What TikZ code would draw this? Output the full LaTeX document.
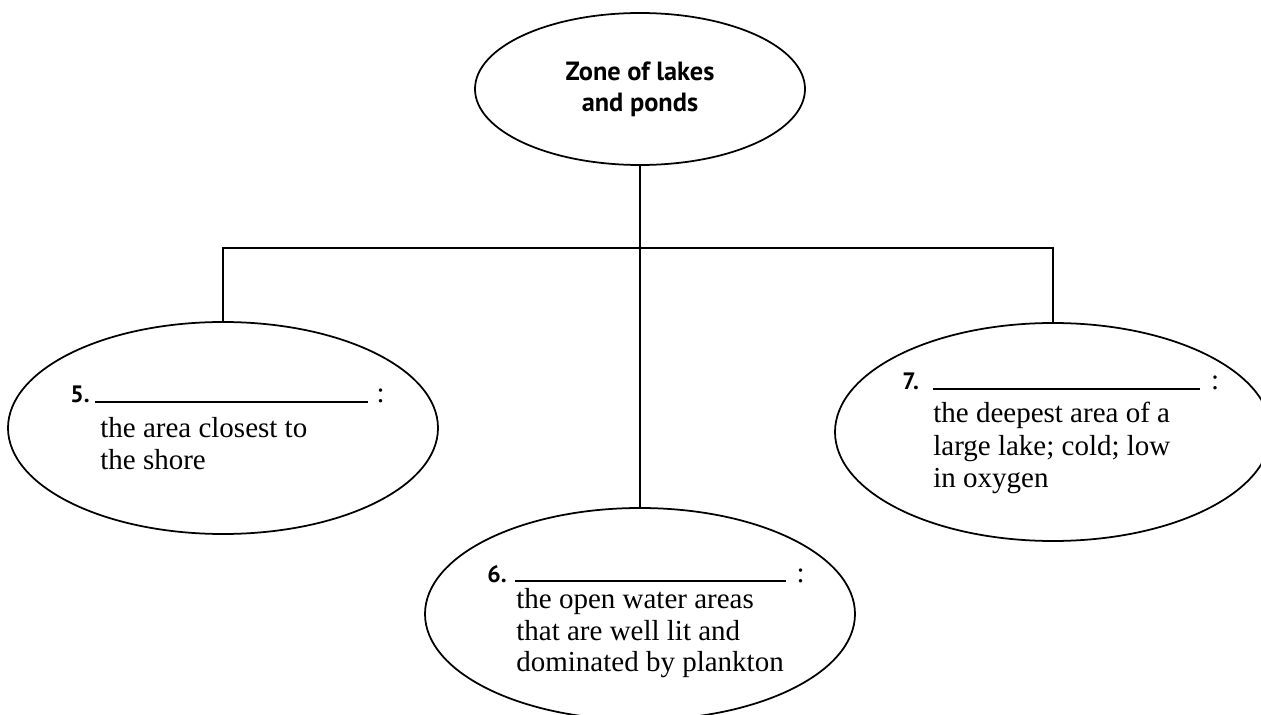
\documentclass[tikz,border=0pt]{standalone}
\usepackage{fontspec}
\setmainfont{Liberation Serif}
\newfontfamily\labelsans{PT Sans}
\usetikzlibrary{shapes.geometric}

\tikzset{
  zone/.style={ellipse,draw=black,line width=1pt,inner sep=0pt},
  link/.style={draw=black,line width=0.8pt},
  num/.style={font=\labelsans\bfseries\fontsize{13.5}{15}\selectfont,text=black,anchor=base west,inner sep=0pt},
  desc/.style={font=\fontsize{16.5}{18}\selectfont,text=black,anchor=base west,inner sep=0pt},
}

\begin{document}
\begin{tikzpicture}
\useasboundingbox (0,0) rectangle (25.22,14.28);

\node[zone,minimum width=6.6cm,minimum height=3.04cm,align=center,font=\labelsans\bfseries\fontsize{15}{17.6}\selectfont] (lakes) at (12.8,12.5) {Zone of lakes\\and ponds};
\node[zone,minimum width=8.6cm,minimum height=4.24cm] (zone5) at (4.46,5.72) {};
\node[zone,minimum width=8.6cm,minimum height=4.24cm] (zone6) at (12.8,2.0) {};
\node[zone,minimum width=8.72cm,minimum height=4.36cm] (zone7) at (21.06,5.64) {};

\coordinate (fork) at (12.8,9.32);
\draw[link] (lakes.south) -- (zone6.north);
\draw[link] (zone5.north) |- (fork) -| (zone7.north);

\node[num] (n5) at (1.40,6.22) {5.};
\node[desc] (b5) at (1.90,6.22) {\rule{155pt}{0.9pt}\hspace{5pt}:};
\node[desc] (d5a) at (2.0,5.54) {the area closest to};
\node[desc] (d5b) at (2.0,4.88) {the shore};

\node[num] (n6) at (9.74,2.64) {6.};
\node[desc] (b6) at (10.3,2.64) {\rule{154pt}{0.9pt}\hspace{6pt}:};
\node[desc] (d6a) at (10.32,2.12) {the open water areas};
\node[desc] (d6b) at (10.32,1.48) {that are well lit and};
\node[desc] (d6c) at (10.32,0.86) {dominated by plankton};

\node[num] (n7) at (18.04,6.48) {7.};
\node[desc] (b7) at (18.66,6.48) {\rule{152pt}{0.9pt}\hspace{6pt}:};
\node[desc] (d7a) at (18.66,5.82) {the deepest area of a};
\node[desc] (d7b) at (18.66,5.18) {large lake; cold; low};
\node[desc] (d7c) at (18.66,4.54) {in oxygen};
\end{tikzpicture}
\end{document}
